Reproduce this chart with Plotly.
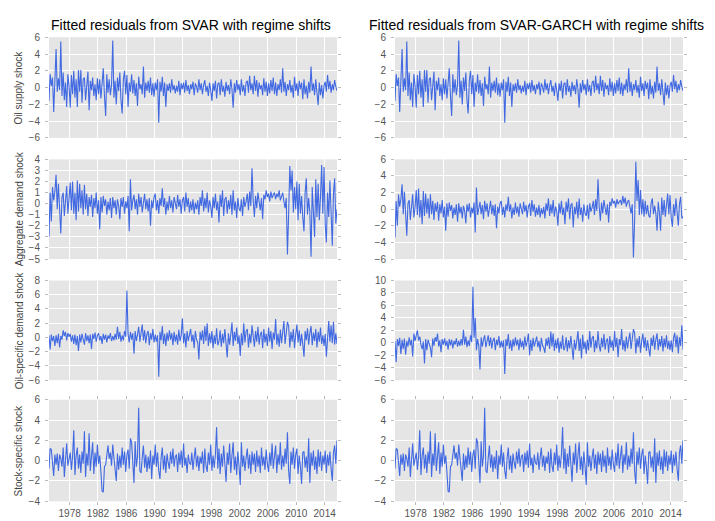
import pandas as pd
import plotly.graph_objects as go
from plotly.subplots import make_subplots

# residuals, one value every two months from Feb 1975 to Oct 2015
START = "1975-02-01"

svar_oil_supply = [
    -1.6, 1.6, 0.2, 1.2, -2.9, 0.8,
    4.6, -0.5, 1.1, -0.3, 5.5, -1.0,
    1.8, -1.5, 0.6, -2.3, 1.6, 0.2,
    -2.4, 1.5, -0.8, 2.0, -1.2, 1.0,
    -2.3, 2.1, -0.5, 2.1, -1.8, 1.0,
    1.2, -1.5, 0.5, 1.9, -2.7, 0.8,
    -0.3, 1.2, -1.0, 0.4, -1.5, 1.1,
    -0.8, 1.0, -1.3, 0.5, 2.3, -1.0,
    -3.4, 1.6, -0.6, 1.0, -0.9, 0.3,
    5.6, -1.2, 0.8, -2.0, 1.2, -0.4,
    1.8, -1.5, -3.1, 0.9, 2.0, -0.8,
    1.5, -2.3, 0.6, -0.5, 1.6, -0.7,
    0.9, -1.0, 0.5, -2.2, 1.3, -0.2,
    0.4, -0.8, 2.5, -1.2, 0.6, -0.4,
    0.8, -0.6, 1.2, -0.9, 0.5, -1.1,
    0.6, -0.3, 1.0, -4.2, 0.7, -0.5,
    1.3, -1.0, 0.6, -2.3, 0.4, -0.4,
    0.5, -0.6, 1.0, -0.3, 0.3, -0.7,
    0.2, -0.5, 0.8, -0.9, 0.5, -0.2,
    0.6, -0.6, 0.9, -0.4, 0.3, -0.8,
    0.4, -0.2, 0.7, -0.9, 0.5, 0.1,
    -0.6, 1.0, -0.3, 0.5, -0.8, 0.3,
    0.9, -0.5, 0.2, -1.0, 0.6, -0.3,
    -1.6, 0.5, -0.4, 0.8, -1.3, 0.4,
    0.6, -0.9, 1.0, -0.5, 0.2, -1.1,
    0.7, -0.4, 0.3, -0.8, 1.0, -0.2,
    -2.4, 0.5, -0.6, 0.9, -0.3, 0.4,
    -0.9, 1.0, -0.5, 0.3, -1.0, 0.6,
    0.8, -0.6, 1.4, -0.3, 0.5, -0.8,
    1.4, -0.4, 0.9, -1.1, 0.6, -0.2,
    0.3, -0.9, 1.1, -0.5, 0.7, -1.0,
    0.5, -0.7, 0.9, -0.4, 1.2, -0.8,
    0.6, -1.0, 0.4, -0.3, 1.0, -0.6,
    2.3, -0.5, 0.7, -1.0, 0.4, -0.3,
    0.9, -0.6, 0.3, -1.2, 1.3, -0.4,
    0.5, -1.0, 0.8, -0.2, 0.6, -1.4,
    1.0, -0.8, 0.2, -1.3, 0.7, -0.6,
    2.5, -0.4, 0.5, -0.9, 1.0, -0.6,
    -2.1, 0.6, -0.9, 0.3, -1.3, 0.2,
    0.7, -0.5, 1.5, -0.2, 0.8, -0.6,
    0.4, -0.3, 0.9, 0.1, -0.4,
]
# the GARCH oil supply panel reads the same as the SVAR one
garch_oil_supply = list(svar_oil_supply)

svar_agg_demand = [
    -3.0, 1.0, -1.6, 1.5, 0.3, 1.1,
    2.6, -0.5, 1.8, -0.8, -2.7, 0.6,
    1.0, -1.1, 0.4, 1.6, -0.9, 0.2,
    1.9, -0.6, 2.0, -0.9, 1.0, -1.5,
    2.1, -0.7, 1.8, -0.4, 1.2, -1.0,
    1.7, -0.5, 0.9, -1.1, 0.6, -0.3,
    0.8, -1.2, 0.5, -0.4, 1.0, -0.9,
    0.3, -2.3, 0.6, -0.8, 0.7, -0.2,
    0.4, -1.0, 0.2, -0.6, 0.5, -1.3,
    0.6, -0.4, 0.3, -1.0, 0.4, -0.2,
    -1.4, 0.5, -0.3, 0.6, -0.9, 0.2,
    -0.4, 0.7, -2.5, 2.2, -0.6, 0.3,
    0.8, -0.5, 0.4, -1.0, 0.9, -0.3,
    0.6, -0.8, 0.2, 0.9, -0.5, 0.4,
    -0.7, 0.5, -2.0, 0.3, -0.4, 0.6,
    0.9, -0.6, 0.3, -0.9, 0.5, -0.2,
    1.4, -0.3, 0.5, -1.0, 0.2, -0.6,
    0.7, -0.4, 0.3, -0.8, 0.6, -0.2,
    -0.5, 0.8, -0.3, 0.4, -0.9, 0.3,
    0.6, -0.7, 1.0, -0.3, 0.5, -0.8,
    0.2, -0.6, 0.4, -0.9, 0.1, -0.5,
    0.3, -1.0, 0.6, -0.2, 1.2, -0.7,
    0.5, -0.4, 1.0, -0.8, 0.3, -0.2,
    -1.3, 0.6, -0.4, 0.9, -0.6, 0.2,
    -1.7, 0.8, -0.3, 1.2, -1.1, 0.4,
    0.6, -0.9, 0.3, -0.5, 0.8, -1.0,
    1.2, -0.6, 0.2, -1.3, 0.5, -0.4,
    -0.7, 0.4, -1.1, 0.6, -0.3, 0.2,
    0.9, -0.6, 1.1, -0.2, 3.2, 0.3,
    -1.2, 0.7, -0.4, 1.0, 0.3, -0.6,
    0.5, -1.4, 0.8, 0.4, 1.2, 0.6,
    0.9, 0.2, 1.1, 0.5, 0.8, 1.0,
    0.4, 0.9, 0.6, 1.2, 0.3, 0.8,
    1.0, 0.2, -0.4, 0.5, -4.6, -1.0,
    3.4, 1.2, 3.0, -0.8, 1.5, -0.5,
    2.0, -1.5, 1.8, -0.9, 0.7, -1.2,
    -2.5, 1.0, 2.3, -1.0, 0.5, -0.8,
    -4.8, 1.5, -0.6, -3.0, 2.2, -1.2,
    1.8, -1.5, 0.6, 3.5, -0.9, 3.3,
    -1.9, -3.5, 1.0, -1.2, 2.1, -0.8,
    -3.8, 0.9, 2.3, -1.8, -0.5,
]

garch_agg_demand = [
    -3.4, 1.0, -2.0, 1.8, 0.3, 1.2,
    3.0, -0.6, 2.1, -0.9, -3.2, 0.7,
    1.1, -1.3, 0.4, 1.8, -1.0, 0.2,
    2.3, -0.7, 2.5, -1.0, 1.1, -1.8,
    2.2, -0.8, 1.9, -0.5, 1.3, -1.1,
    1.8, -0.6, 1.0, -1.3, 0.7, -0.3,
    0.9, -1.4, 0.6, -0.5, 1.1, -1.0,
    0.3, -2.6, 0.7, -0.9, 0.8, -0.2,
    0.5, -1.1, 0.2, -0.7, 0.6, -1.5,
    0.7, -0.5, 0.3, -1.1, 0.4, -0.2,
    -1.7, 0.6, -0.3, 0.7, -1.0, 0.2,
    -0.5, 0.8, -2.8, 2.6, -0.7, 0.3,
    0.9, -0.6, 0.5, -1.2, 1.0, -0.3,
    0.7, -0.9, 0.2, 1.0, -0.6, 0.5,
    -0.8, 0.6, -2.3, 0.3, -0.5, 0.7,
    1.0, -0.7, 0.3, -1.0, 0.6, -0.2,
    1.5, -0.3, 0.6, -1.1, 0.2, -0.7,
    0.8, -0.5, 0.3, -0.9, 0.7, -0.2,
    -0.6, 0.9, -0.3, 0.5, -1.0, 0.3,
    0.7, -0.8, 1.1, -0.3, 0.6, -0.9,
    0.2, -0.7, 0.5, -1.0, 0.1, -0.6,
    0.3, -1.1, 0.7, -0.2, 1.3, -0.8,
    0.6, -0.5, 1.1, -0.9, 0.3, -0.2,
    -2.0, 0.7, -0.5, 1.0, -0.7, 0.2,
    -1.8, 0.9, -0.3, 1.3, -1.2, 0.5,
    0.7, -2.2, 0.3, -0.6, 0.9, -1.1,
    1.3, -0.7, 0.2, -1.5, 0.6, -0.5,
    -0.8, 0.5, -1.2, 0.7, -0.3, 0.2,
    1.0, -0.7, 1.2, -0.2, 3.6, 0.3,
    -1.4, 0.8, -0.5, 1.1, 0.3, -0.7,
    0.6, -1.6, 0.9, 0.4, 1.3, 0.7,
    1.0, 0.2, 1.2, 0.6, 0.9, 1.1,
    0.5, 1.6, 0.7, 1.4, 0.3, 0.9,
    1.1, 0.2, -0.5, 0.6, -5.8, -1.2,
    5.7, 1.0, 3.5, -0.7, 2.3, -0.6,
    1.2, -0.9, 1.0, -0.6, 0.5, -0.8,
    -1.0, 0.7, 1.3, -0.6, 0.4, -0.5,
    -2.6, 0.9, -0.4, -2.6, 1.4, -0.7,
    1.1, -0.9, 0.4, 1.9, -0.6, 1.7,
    -1.1, -2.1, 0.6, -0.8, 1.3, -0.5,
    -2.0, 0.6, 1.5, -1.1, -0.9,
]

svar_oil_demand = [
    0.3, -1.7, 0.4, -0.5, 0.2, -1.2,
    0.3, -0.8, 0.5, -1.4, 0.2, -0.3,
    1.0, 0.2, 0.8, -0.4, 0.6, 0.1,
    0.5, -0.6, 0.3, -0.9, 0.4, -1.1,
    0.2, -1.9, 0.4, -0.7, 0.5, -0.3,
    -1.0, 0.6, -0.5, 0.3, -0.8, 0.4,
    -1.6, 0.5, -0.2, 0.7, -0.6, 0.3,
    0.6, -0.4, 0.2, -0.9, 0.5, -0.3,
    0.4, -0.7, 0.3, -0.2, 0.6, -0.5,
    0.2, -0.4, 0.5, -0.3, 1.5, -0.2,
    0.8, -0.6, 0.3, -0.4, 0.9, 0.1,
    6.6, 0.5, -0.7, 0.8, -0.3, 0.6,
    -2.3, 0.9, -0.5, 0.4, 1.5, -0.6,
    0.7, 1.8, -0.4, 1.0, -0.8, 0.5,
    0.9, -1.1, 0.6, -0.3, 1.2, -0.7,
    0.4, -0.6, 0.3, -5.5, 0.8, -0.4,
    1.6, -0.9, 0.5, -1.2, 0.7, -0.5,
    1.0, -0.3, 0.6, -1.1, 0.8, -0.6,
    0.4, -1.0, 1.1, -0.5, 0.3, 2.7,
    -0.8, 0.6, -1.4, 0.9, -0.5, 0.3,
    1.2, -0.6, 0.4, -1.5, 0.9, -0.3,
    -0.7, -3.1, 0.8, -0.4, 1.0, -0.9,
    1.6, -0.5, 2.0, -1.2, 0.6, -0.8,
    0.9, -1.5, 0.3, -0.9, 1.3, -1.1,
    -0.6, 1.0, -1.3, 0.5, -0.8, 1.2,
    -0.4, -2.8, 0.6, -1.0, 0.4, 2.1,
    -1.2, 0.8, -0.5, 1.4, -0.9, 0.3,
    -2.6, 0.6, -1.1, 2.0, -0.7, 0.9,
    1.2, -1.4, 0.5, -0.8, 1.7, -0.4,
    -1.3, 0.9, -0.6, 1.5, -1.0, 0.4,
    0.8, -1.5, 1.2, -0.7, 0.5, -1.2,
    1.4, -0.6, 0.9, -1.6, 0.7, -0.3,
    2.6, -1.0, 0.5, -1.3, 1.1, -0.8,
    0.6, 2.3, -0.9, 1.0, 2.2, 1.6,
    -1.4, 0.8, -0.6, 1.2, -1.5, 0.4,
    1.8, -0.7, 1.0, -1.2, 0.5, -0.9,
    -2.7, 0.9, -0.4, 1.3, -1.0, 0.6,
    1.6, -1.1, 0.7, -0.5, 1.2, -1.4,
    0.8, -0.6, 1.4, -0.9, 0.3, -1.2,
    0.5, -2.7, 0.9, 2.3, -0.6, 1.7,
    -0.8, 2.2, -1.0, 0.6, -0.9,
]

garch_oil_demand = [
    0.3, -3.1, 0.6, -0.5, 0.8, -1.8,
    0.5, -1.0, 0.7, -1.9, 0.3, -0.6,
    0.9, -0.4, 0.5, -2.2, 1.5, 0.3,
    1.2, 2.0, 0.4, 1.0, -0.3, -1.0,
    0.2, -3.3, 0.6, -1.2, 0.5, -0.4,
    -0.8, -2.3, 0.7, -0.5, 0.9, 0.2,
    1.5, -0.6, 0.4, -1.5, 0.6, -0.3,
    0.7, -0.5, 0.3, -1.1, 0.6, -0.4,
    0.5, -0.9, 0.3, -0.3, 0.7, -0.6,
    0.3, -0.5, 0.6, -0.4, 2.1, -0.3,
    1.0, -0.7, 0.4, -0.5, 1.2, 0.1,
    9.0, 0.8, 4.0, -1.2, 0.6, -0.5,
    -4.3, 0.9, -0.6, 0.5, 1.2, -0.7,
    0.6, 1.2, -0.5, 0.9, -0.9, 0.4,
    0.8, -1.2, 0.5, -0.4, 1.1, -0.8,
    0.3, -0.7, 0.4, -5.0, 0.6, -0.5,
    1.4, -1.0, 0.4, -1.3, 0.6, -0.6,
    0.9, -0.4, 0.5, -1.2, 0.7, -0.7,
    0.3, -1.1, 1.0, -0.6, 0.2, 1.5,
    -2.0, 0.5, -1.3, 0.8, -0.6, 0.2,
    1.0, -0.7, 0.3, -1.4, 0.8, -0.4,
    -0.8, -1.6, 0.7, -0.5, 0.9, -1.0,
    1.8, -0.6, 1.5, -1.3, 0.5, -0.9,
    0.8, -1.6, 0.2, -1.0, 1.2, -1.2,
    -0.7, 0.9, -1.4, 0.4, -0.9, 1.1,
    -0.5, -2.7, 0.5, -1.1, 0.3, 1.9,
    -1.3, 0.7, -2.5, 1.3, -1.0, 0.2,
    -1.8, 0.5, -1.2, 1.9, -0.8, 0.8,
    1.1, -1.5, 0.4, -0.9, 1.9, -0.5,
    -1.4, 0.8, -0.7, 1.4, -1.1, 0.3,
    0.7, -1.6, 1.1, -0.8, 0.4, -1.3,
    1.9, -0.7, 0.8, -2.3, 0.6, -0.4,
    2.2, -1.1, 0.4, -1.4, 1.0, -0.9,
    0.5, 1.6, -1.0, 0.9, 2.2, 1.6,
    -1.7, 0.7, -0.7, 1.1, -1.6, 0.3,
    1.5, -0.8, 0.9, -1.3, 0.4, -1.0,
    -2.2, 0.8, -0.5, 1.2, -1.1, 0.5,
    1.5, -1.2, 0.6, -0.6, 1.1, -1.4,
    0.7, -0.7, 1.2, -1.0, 0.3, -1.2,
    0.4, -1.5, 0.8, 1.6, -0.7, 1.2,
    -1.7, 0.9, -0.5, 2.8, -1.1,
]

svar_stock = [
    -0.8, 1.2, 1.1, -0.2, -1.5, 0.6,
    -0.4, 0.7, -1.0, 0.6, 0.2, -0.6,
    1.3, -1.6, 0.5, 1.7, -0.5, 0.3,
    0.8, -0.9, 0.4, 3.0, -1.4, 0.5,
    1.3, -0.8, 0.6, -1.2, 0.9, -0.3,
    2.9, -1.6, 0.7, -0.5, 2.7, -1.0,
    0.4, 1.8, -1.3, 0.8, -0.6, 1.6,
    -0.3, 0.5, -1.1, -3.0, -3.1, -0.6,
    -0.4, 0.6, 1.5, 0.2, 0.8, -0.5,
    1.6, 0.3, -0.6, -2.0, 0.7, -0.9,
    0.5, -0.7, 1.3, -0.4, 0.9, -1.1,
    0.6, 1.1, -0.8, 2.2, 1.8, -0.3,
    -2.2, 1.9, -0.6, 0.4, 5.2, -1.0,
    -1.2, 0.3, 1.5, -0.7, 0.6, -1.1,
    0.4, -0.8, 1.0, -1.8, 0.5, -0.4,
    1.6, -0.6, 0.8, -1.0, -1.8, 0.3,
    1.3, -0.9, 0.5, -1.2, 0.7, -0.2,
    -0.8, 0.9, -0.3, 1.2, -0.6, 0.4,
    0.6, -1.1, 0.8, -0.4, 1.0, -0.7,
    1.7, -0.5, 0.3, -1.2, 0.6, -0.2,
    -0.4, 0.8, -0.9, 0.3, 1.3, -0.6,
    0.5, -1.0, 0.4, -0.3, 0.9, -1.2,
    1.2, -0.5, -1.1, 0.8, -0.4, 1.6,
    -1.0, 0.5, -0.7, 0.6, 3.3, -0.8,
    1.2, -1.3, 0.7, -0.6, 1.5, -0.3,
    -2.1, 0.8, -0.4, 1.7, -1.2, 0.5,
    1.8, -0.9, 0.4, -1.4, 0.9, -0.5,
    -2.4, 1.8, -0.6, 0.5, -1.0, 0.3,
    1.2, -0.8, 0.6, -1.3, 0.9, -0.4,
    0.7, -1.1, 1.0, -0.6, 0.5, -1.2,
    1.3, -0.5, 0.4, -0.9, 1.1, -0.3,
    -1.1, 0.8, -0.5, 1.7, -0.8, 0.4,
    1.5, -1.2, 0.6, -0.4, 1.8, -0.9,
    0.5, -0.6, 1.2, -0.3, 2.8, -1.0,
    -2.3, 0.9, -0.4, 1.3, -0.8, 0.6,
    1.2, -1.3, 0.5, -0.6, -2.3, 0.8,
    0.9, -0.7, 0.4, -1.1, 2.2, -2.2,
    0.8, -0.5, 1.0, -0.9, 0.4, -1.3,
    1.1, -0.6, 0.9, -1.0, 0.5, -0.4,
    1.0, -1.2, 0.6, -0.5, 0.9, -0.8,
    -2.0, 0.8, 1.5, -0.3, 2.0,
]
# stock-specific residuals look the same in both models
garch_stock = list(svar_stock)

panels = [
    (svar_oil_supply, (-6, 6, 2), "Oil supply shock"),
    (garch_oil_supply, (-6, 6, 2), None),
    (svar_agg_demand, (-5, 4, 1), "Aggregate demand shock"),
    (garch_agg_demand, (-6, 6, 2), None),
    (svar_oil_demand, (-6, 8, 2), "Oil-specific demand shock"),
    (garch_oil_demand, (-6, 10, 2), None),
    (svar_stock, (-4, 6, 2), "Stock-specific shock"),
    (garch_stock, (-4, 6, 2), None),
]

W, H = 715, 521
col_px = [(49, 337), (395, 683)]
row_px = [(32, 135), (157, 259), (281, 383), (403, 507)]

LINE = "#4169E1"
BG = "#E5E5E5"
TICKC = "#BBBBBB"
FONT = "Liberation Sans, Arial, Helvetica, sans-serif"
TICKFONT = dict(size=10, color="#555555", family=FONT)

fig = make_subplots(rows=4, cols=2)

for i, (vals, (lo, hi, step), ylabel) in enumerate(panels):
    r, c = divmod(i, 2)
    dates = pd.date_range(START, periods=len(vals), freq="2MS")
    fig.add_trace(go.Scatter(x=dates, y=vals, mode="lines", line=dict(color=LINE, width=1.1),
                             showlegend=False), row=r + 1, col=c + 1)
    n = i + 1
    x0, x1 = col_px[c]
    y0, y1 = row_px[r]
    bottom = r == 3
    fig.layout[f"xaxis{n}"].update(
        domain=[x0 / W, x1 / W], type="date",
        range=["1975-02-01", "2015-10-01"],
        tick0="1978-01-01", dtick="M48", tickformat="%Y",
        showgrid=True, gridcolor="white", gridwidth=1, zeroline=False, showline=False,
        showticklabels=bottom, ticks="outside" if bottom else "", mirror="ticks" if bottom else False,
        ticklen=3, tickcolor=TICKC, tickfont=TICKFONT,
    )
    fig.layout[f"yaxis{n}"].update(
        domain=[1 - y1 / H, 1 - y0 / H], range=[lo, hi],
        tickmode="linear", tick0=lo, dtick=step,
        showgrid=True, gridcolor="white", gridwidth=1, zeroline=False, showline=False,
        ticks="outside", mirror="ticks", ticklen=3, tickcolor=TICKC,
        ticklabelstandoff=3, tickfont=TICKFONT,
    )
    if ylabel:
        fig.add_annotation(text=ylabel, x=19 / W, y=1 - (y0 + y1) / 2 / H, xref="paper", yref="paper",
                           textangle=-90, showarrow=False, xanchor="center", yanchor="middle",
                           font=dict(size=10, color="#444444", family=FONT))

for text, left in [("Fitted residuals from SVAR with regime shifts", 49),
                   ("Fitted residuals from SVAR-GARCH with regime shifts", 367)]:
    fig.add_annotation(text=text, x=left / W, y=1 - 19 / H, xref="paper", yref="paper",
                       showarrow=False, xanchor="left", yanchor="middle",
                       font=dict(size=14, color="black", family=FONT))

fig.update_layout(
    width=W, height=H, margin=dict(l=0, r=0, t=0, b=0),
    paper_bgcolor="white", plot_bgcolor=BG,
    font=dict(family=FONT),
)

# the page's default body margin would push the figure 8px right and down
fig.write_html("out.html", config={"displayModeBar": False},
               post_script="document.body.style.margin = '0px';")
